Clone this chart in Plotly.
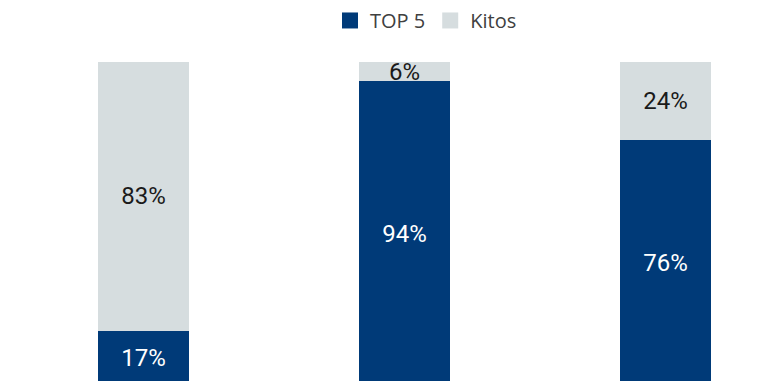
import plotly.graph_objects as go

categories = ["A", "B", "C"]
top5 = [17, 94, 76]
kitos = [83, 6, 24]
top5_labels = ["17%", "94%", "76%"]
kitos_labels = ["83%", "6%", "24%"]
series_names = ["TOP 5", "Kitos"]

BLUE = "#003A78"
GREY = "#D6DDDF"
FONT = "Roboto, sans-serif"
LABEL_SIZE = 24

fig = go.Figure()
fig.add_trace(go.Bar(
    x=categories, y=top5, name=series_names[0], showlegend=False,
    marker=dict(color=BLUE, line=dict(width=0)),
    text=top5_labels, textposition="inside", insidetextanchor="middle",
    textfont=dict(color="white", size=LABEL_SIZE, family=FONT), constraintext="none",
    width=0.35,
))
fig.add_trace(go.Bar(
    x=categories, y=kitos, name=series_names[1], showlegend=False,
    marker=dict(color=GREY, line=dict(width=0)),
    text=kitos_labels, textposition="inside", insidetextanchor="middle",
    textfont=dict(color="#1a1a1a", size=LABEL_SIZE, family=FONT), constraintext="none",
    width=0.35,
))
# legend entries with larger square swatches
for name, col in zip(series_names, [BLUE, GREY]):
    fig.add_trace(go.Scatter(
        x=[None], y=[None], mode="markers", name=name,
        marker=dict(symbol="square", size=16, color=col, line=dict(width=0)),
        showlegend=True,
    ))

fig.update_layout(
    barmode="stack",
    width=780, height=381,
    margin=dict(l=0, r=0, t=54, b=0, autoexpand=False),
    paper_bgcolor="white", plot_bgcolor="white",
    showlegend=True,
    legend=dict(orientation="h", x=0.4128, xanchor="left", y=1.127, yanchor="middle",
                yref="paper", font=dict(size=20, color="#404040", family="Open Sans, sans-serif"),
                traceorder="normal", itemwidth=30, bgcolor="rgba(0,0,0,0)"),
    uniformtext=dict(minsize=LABEL_SIZE, mode="show"),
)
fig.update_xaxes(visible=False, range=[-0.519, 2.469])
fig.update_yaxes(visible=False, range=[-0.93, 100])

fig.write_html("out.html")
